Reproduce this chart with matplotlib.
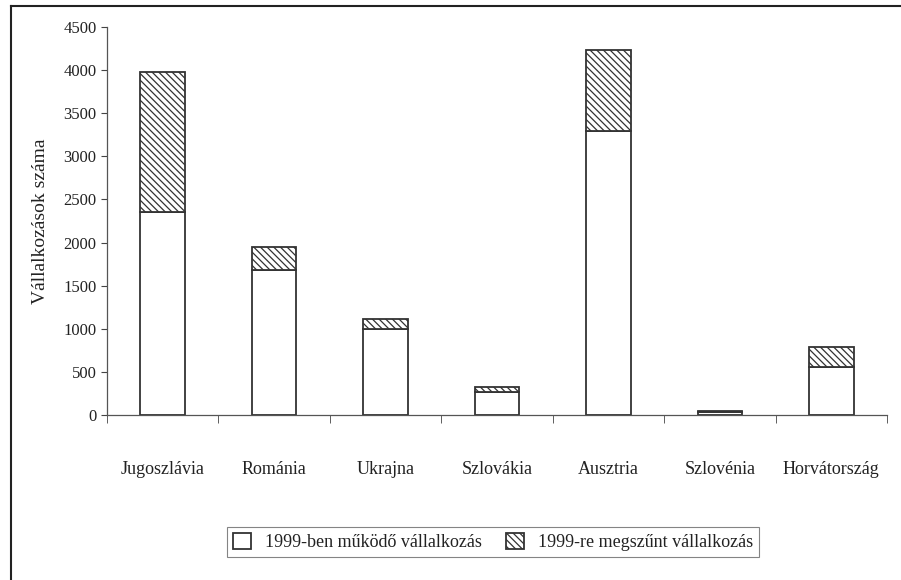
import numpy as np
import matplotlib.pyplot as plt
from matplotlib.lines import Line2D

# adatok
orszagok = ["Jugoszlávia", "Románia", "Ukrajna", "Szlovákia", "Ausztria", "Szlovénia", "Horvátország"]
mukodo = [2350, 1680, 1000, 270, 3290, 30, 560]
megszunt = [1630, 265, 110, 50, 940, 20, 230]

plt.rcParams['font.family'] = ['Liberation Serif', 'DejaVu Serif']
plt.rcParams['hatch.linewidth'] = 0.9
plt.rcParams['hatch.color'] = '#333333'

fig = plt.figure(figsize=(9.01, 5.8), dpi=100)
ax = fig.add_axes([0.1188, 0.2845, 0.8657, 0.669])

x = np.arange(len(orszagok))
edge = '#333333'
ax.bar(x, mukodo, width=0.4, color='white', edgecolor=edge, linewidth=1.3,
       label='1999-ben működő vállalkozás')
ax.bar(x, megszunt, width=0.4, bottom=mukodo, color='white', edgecolor=edge,
       linewidth=1.3, hatch='\\\\\\\\\\', label='1999-re megszűnt vállalkozás')

ax.set_xlim(-0.5, len(orszagok) - 0.5)
ax.set_ylim(0, 4500)
ax.set_yticks(np.arange(0, 4501, 500))
ax.set_xticks(x)
ax.set_xticklabels(orszagok, fontsize=13, color='#222222')
ax.set_xticks(np.arange(-0.5, len(orszagok)), minor=True)
ax.tick_params(axis='x', which='major', length=0, pad=33)
ax.tick_params(axis='x', which='minor', length=6, direction='out', color='#444444')
ax.tick_params(axis='y', length=4, direction='out', labelsize=12, color='#444444',
               labelcolor='#222222')
ax.set_ylabel('Vállalkozások száma', fontsize=14, labelpad=10, color='#222222')

for s in ['top', 'right']:
    ax.spines[s].set_visible(False)
for s in ['left', 'bottom']:
    ax.spines[s].set_color('#555555')
    ax.spines[s].set_linewidth(0.9)

leg = fig.legend(loc='center', bbox_to_anchor=(0.547, 0.0655), ncol=2, fontsize=13,
                 frameon=True, fancybox=False, edgecolor='#666666',
                 handlelength=1.0, handleheight=0.95, handletextpad=0.75,
                 columnspacing=1.35, borderpad=0.35)
leg.get_frame().set_linewidth(0.8)
for t in leg.get_texts():
    t.set_color('#222222')

# keret a kép körül
fig.add_artist(Line2D([0.012, 0.012], [0.0, 0.99], color='#222222', linewidth=1.5))
fig.add_artist(Line2D([0.012, 1.0], [0.99, 0.99], color='#222222', linewidth=1.5))

fig.savefig('out.png', dpi=100)
